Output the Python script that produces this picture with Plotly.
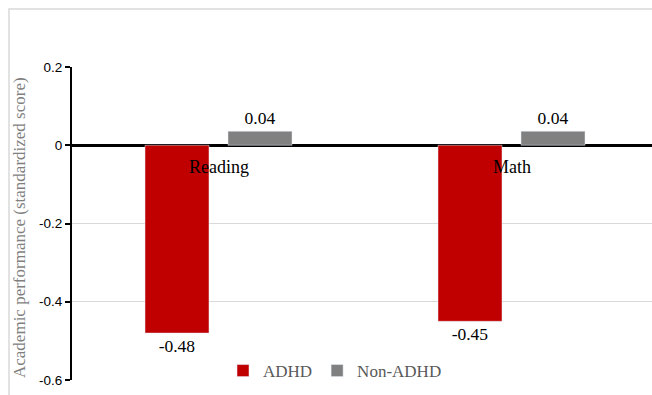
import plotly.graph_objects as go

categories = ["Reading", "Math"]
adhd = [-0.48, -0.45]
non_adhd = [0.036, 0.036]
y_ticks = [0.2, 0, -0.2, -0.4, -0.6]
y_tick_text = ["0.2", "0", "-0.2", "-0.4", "-0.6"]

W, H = 652, 395
ML, MR, MT, MB = 72, 0, 67, 15
plot_w = W - ML - MR
plot_h = H - MT - MB
cat_px = 293.0
x_range = [-0.5, -0.5 + plot_w / cat_px]

serif = "Liberation Serif"
sans = "Liberation Sans"

xs = list(range(len(categories)))
bar_w = 64 / cat_px
fig = go.Figure()
fig.add_trace(go.Bar(
    x=xs, y=adhd, name="ADHD", marker_color="#C00000",
    width=bar_w, offset=-73.5 / cat_px,
    texttemplate="%{y:.2f}", textposition="outside",
    textfont=dict(family=serif, size=17.5, color="#000000"),
    cliponaxis=False,
))
fig.add_trace(go.Bar(
    x=xs, y=non_adhd, name="Non-ADHD", marker_color="#808080",
    width=bar_w, offset=9.5 / cat_px,
    texttemplate="%{y:.2f}", textposition="outside",
    textfont=dict(family=serif, size=17.5, color="#000000"),
    cliponaxis=False,
))

for i, c in enumerate(categories):
    fig.add_annotation(x=i, y=0, xref="x", yref="y", text=c, showarrow=False,
                       yanchor="top", yshift=-10,
                       font=dict(family=serif, size=18, color="#000000"))

# y-axis title
fig.add_annotation(x=(19 - ML) / plot_w, y=(380 - 228) / plot_h, xref="paper", yref="paper",
                   text="Academic performance (standardized score)", textangle=-90,
                   showarrow=False, xanchor="center", yanchor="middle",
                   font=dict(family=serif, size=17, color="#7F7F7F"))

# chart outer border
fig.add_shape(type="rect", xref="paper", yref="paper",
              x0=(9 - ML) / plot_w, x1=1.2, y0=-0.3, y1=1 + (MT - 9) / plot_h,
              line=dict(color="#D9D9D9", width=1.5), fillcolor="rgba(0,0,0,0)", layer="below")

fig.update_layout(
    width=W, height=H,
    margin=dict(l=ML, r=MR, t=MT, b=MB, pad=0),
    paper_bgcolor="white", plot_bgcolor="white",
    barmode="overlay",
    showlegend=True,
    legend=dict(orientation="h", x=(335 - ML) / plot_w, xanchor="center",
                y=(380 - 371) / plot_h, yanchor="middle",
                bgcolor="rgba(0,0,0,0)", font=dict(family=serif, size=17, color="#595959"),
                itemwidth=30, tracegroupgap=0),
    xaxis=dict(range=x_range, showticklabels=False, showgrid=False, zeroline=False,
               showline=False, ticks=""),
    yaxis=dict(range=[-0.6, 0.2], tickvals=y_ticks, ticktext=y_tick_text,
               tickfont=dict(family=sans, size=13.5, color="#000000"),
               showgrid=True, gridcolor="#D9D9D9", gridwidth=1,
               zeroline=True, zerolinecolor="#000000", zerolinewidth=3,
               showline=True, linecolor="#000000", linewidth=2,
               ticks="outside", ticklen=5, tickwidth=2, tickcolor="#000000"),
)

fig.write_html("out.html")
